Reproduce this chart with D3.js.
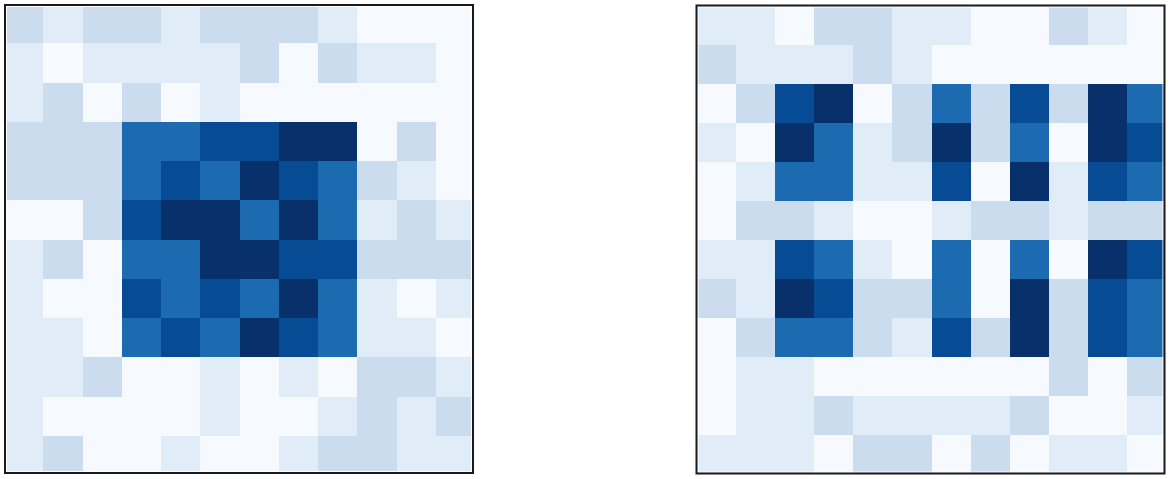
<!DOCTYPE html>
<html>
<head>
<meta charset="utf-8">
<script src="https://cdn.jsdelivr.net/npm/d3@7"></script>
<style>
html,body{margin:0;padding:0;background:#fff;}
svg{display:block;}
</style>
</head>
<body>
<svg id="chart" width="1170" height="479"></svg>
<script>
// Intensity levels (0 = lightest .. 5 = darkest), 12 rows x 12 columns
const leftGrid = [
  [2,1,2,2,1,2,2,2,1,0,0,0],
  [1,0,1,1,1,1,2,0,2,1,1,0],
  [1,2,0,2,0,1,0,0,0,0,0,0],
  [2,2,2,3,3,4,4,5,5,0,2,0],
  [2,2,2,3,4,3,5,4,3,2,1,0],
  [0,0,2,4,5,5,3,5,3,1,2,1],
  [1,2,0,3,3,5,5,4,4,2,2,2],
  [1,0,0,4,3,4,3,5,3,1,0,1],
  [1,1,0,3,4,3,5,4,3,1,1,0],
  [1,1,2,0,0,1,0,1,0,2,2,1],
  [1,0,0,0,0,1,0,0,1,2,1,2],
  [1,2,0,0,1,0,0,1,2,2,1,1]
];
const rightGrid = [
  [1,1,0,2,2,1,1,0,0,2,1,0],
  [2,1,1,1,2,1,0,0,0,0,0,0],
  [0,2,4,5,0,2,3,2,4,2,5,3],
  [1,0,5,3,1,2,5,2,3,0,5,4],
  [0,1,3,3,1,1,4,0,5,1,4,3],
  [0,2,2,1,0,0,1,2,2,1,2,2],
  [1,1,4,3,1,0,3,0,3,0,5,4],
  [2,1,5,4,2,2,3,0,5,2,4,3],
  [0,2,3,3,2,1,4,2,5,2,4,3],
  [0,1,1,0,0,0,0,0,0,2,0,2],
  [0,1,1,2,1,1,1,1,2,0,0,1],
  [1,1,1,0,2,2,0,2,0,1,1,0]
];
const levels = [0,1,2,3,4,5];
const levelColors = ["#f6faff","#e0ecf7","#cadcee","#1c6aaf","#084b95","#08306b"];

const svg = d3.select("#chart");
const color = d3.scaleOrdinal().domain(levels).range(levelColors);

const panels = [
  {grid: leftGrid, frame:[5,5,473,473], cells:[4,4,475,475], id:"L"},
  {grid: rightGrid, frame:[696.5,5.5,1164.5,473.5], cells:[697,6.5,1166,474], id:"R"}
];

panels.forEach(p => {
  const n = p.grid.length;
  const idx = d3.range(n);
  const x = d3.scaleBand().domain(idx).range([p.cells[0], p.cells[2]]);
  const y = d3.scaleBand().domain(idx).range([p.cells[1], p.cells[3]]);
  const [fx0, fy0, fx1, fy1] = p.frame;

  svg.append("clipPath").attr("id","clip"+p.id)
    .append("rect").attr("x",fx0).attr("y",fy0).attr("width",fx1-fx0).attr("height",fy1-fy0);

  const g = svg.append("g").attr("clip-path","url(#clip"+p.id+")");
  const cells = [];
  p.grid.forEach((row, r) => row.forEach((v, c) => cells.push({r, c, v})));
  g.selectAll("rect.cell").data(cells).join("rect")
    .attr("class","cell")
    .attr("x", d => x(d.c))
    .attr("y", d => y(d.r))
    .attr("width", x.bandwidth() + 0.3)
    .attr("height", y.bandwidth() + 0.3)
    .attr("fill", d => color(d.v))
    .attr("shape-rendering","crispEdges");

  // inner white line
  svg.append("rect")
    .attr("x", fx0 + 1.5).attr("y", fy0 + 1.5)
    .attr("width", fx1 - fx0 - 3).attr("height", fy1 - fy0 - 3)
    .attr("fill","none").attr("stroke","#ffffff").attr("stroke-width",1);
  // frame
  svg.append("rect")
    .attr("x", fx0).attr("y", fy0)
    .attr("width", fx1 - fx0).attr("height", fy1 - fy0)
    .attr("fill","none").attr("stroke","#1a1a1a").attr("stroke-width",2);
});
</script>
</body>
</html>
